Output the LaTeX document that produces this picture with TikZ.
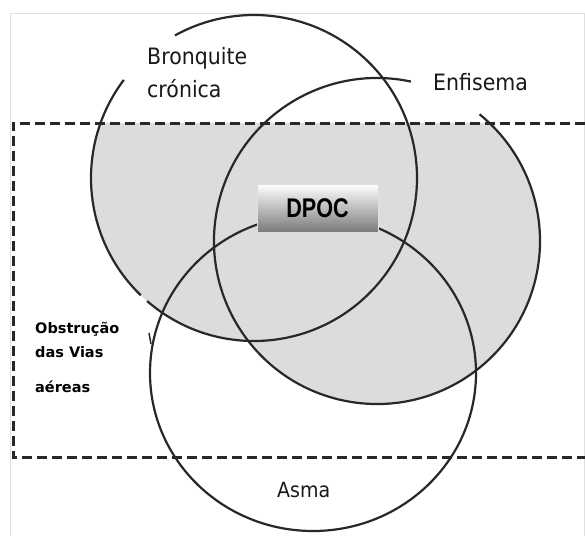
\documentclass[tikz,border=0pt]{standalone}
\usepackage{fontspec}
\setmainfont{DejaVu Sans}
\newfontfamily\dpocfont{Liberation Sans}
\usepackage{graphicx}
\usetikzlibrary{calc}
\definecolor{venngray}{RGB}{220,220,220}
\definecolor{lineclr}{RGB}{40,40,40}
\newcommand{\tallbox}[1]{\scalebox{1}[1.1]{#1}}
\tikzset{
 ring/.style={draw=lineclr, line width=2.2pt},
 dashbox/.style={draw=lineclr, line width=3pt, dash pattern=on 10pt off 5pt},
 lbl/.style={inner sep=0pt, anchor=base west, text=black!90, font=\fontsize{20.5}{24}\selectfont},
 oblbl/.style={inner sep=0pt, anchor=base west, text=black, font=\bfseries\fontsize{14.5}{17}\selectfont},
 dpocbox/.style={draw=gray!25, line width=0.8pt, top color=white, bottom color=black!52, minimum width=121pt, minimum height=48pt, inner sep=0pt, font=\dpocfont\bfseries\fontsize{27}{30}\selectfont}
}
\begin{document}
\begin{tikzpicture}[x=1pt,y=-1pt]
\useasboundingbox (0,0) rectangle (585,535);
\clip (0,0) rectangle (585,535);
\fill[white] (0,0) rectangle (585,535);
\draw[gray!25, line width=1pt] (10,14) rectangle (584,545);
\coordinate (B) at (254,178);
\coordinate (E) at (377,241);
\coordinate (A) at (313,373);
\begin{scope}
\clip (13,123) rectangle (600,457);
\fill[venngray] (B) circle[radius=163pt];
\fill[venngray] (E) circle[radius=163pt];
\end{scope}
\draw[dashbox] (600,123) -- (13,123) -- (13,457) -- (600,457);
\draw[ring] ($(B)+(143:163pt)$) arc[start angle=143, end angle=226, radius=163pt];
\draw[ring] ($(B)+(229:163pt)$) arc[start angle=229, end angle=479, radius=163pt];
\draw[ring] ($(E)+(78:163pt)$) arc[start angle=78, end angle=411, radius=163pt];
\draw[ring] (A) ellipse[x radius=163pt, y radius=158pt];
\coordinate (s1) at (149,333);
\coordinate (s2) at (151,344);
\draw[ring, line width=1.5pt] (s1) -- (s2);
\node[dpocbox] (dpoc) at (317.5,208) {\scalebox{0.8}[1]{DPOC}};
\node[lbl] (bron1) at (147,64) {\tallbox{Bronquite}};
\node[lbl] (bron2) at (147,97) {\tallbox{crónica}};
\node[lbl] (enf) at (433,90) {\tallbox{Enfisema}};
\node[lbl, font=\fontsize{19}{22}\selectfont] (asma) at (277,497) {\tallbox{Asma}};
\node[oblbl] (ob1) at (35,333) {Obstrução};
\node[oblbl] (ob2) at (35,357) {das Vias};
\node[oblbl] (ob3) at (35,392) {aéreas};
\end{tikzpicture}
\end{document}
